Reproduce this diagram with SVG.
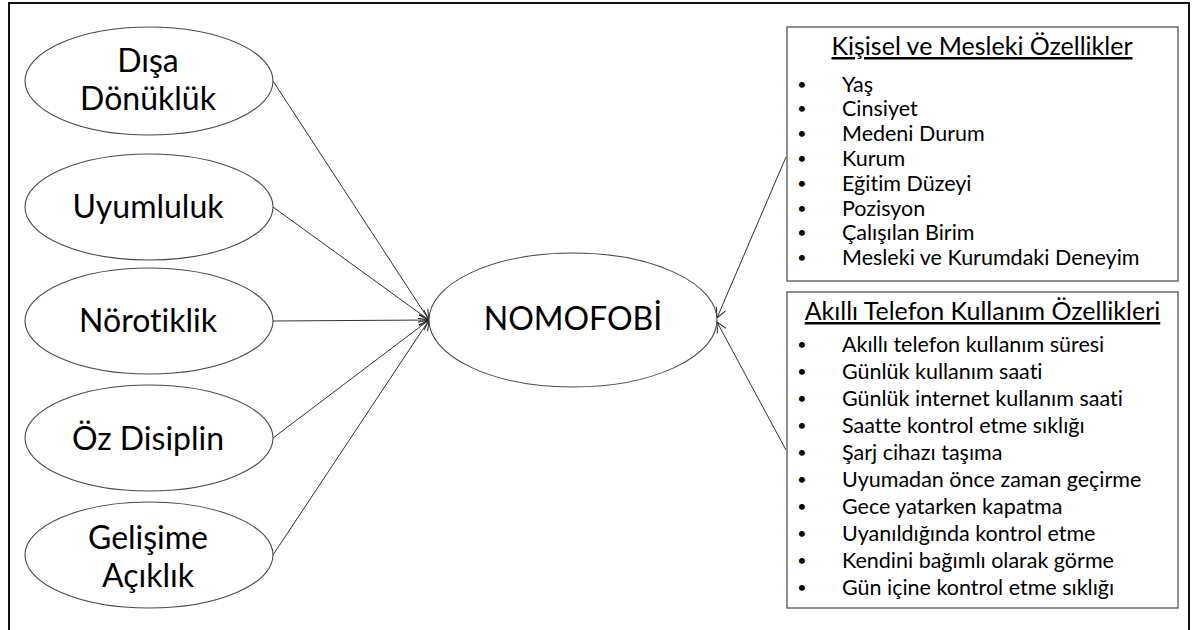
<svg xmlns="http://www.w3.org/2000/svg" width="1193" height="630" viewBox="0 0 1193 630">
<style>
text{font-variant-ligatures:none;font-feature-settings:"liga" 0,"clig" 0}
.frame{fill:none;stroke:#111;stroke-width:2}
.ell{fill:#fff;stroke:#4a4a4a;stroke-width:1.1}
.box{fill:#fff;stroke:#555;stroke-width:1.3}
.lbl{font-family:Lato,"Liberation Sans",sans-serif;font-size:32px;fill:#000;text-anchor:middle}
.ttl{font-family:Lato,"Liberation Sans",sans-serif;font-size:25px;fill:#000;text-anchor:middle;text-decoration:underline}
.itm{font-family:Lato,"Liberation Sans",sans-serif;font-size:21.5px;fill:#000}
.bul{font-family:Lato,"Liberation Sans",sans-serif;font-size:16px;fill:#000;text-anchor:middle}
.conn{stroke:#333;stroke-width:1;fill:none}
</style>
<defs>
<marker id="arr" markerWidth="12" markerHeight="12" refX="11" refY="6" orient="auto" markerUnits="userSpaceOnUse">
<path d="M1,1 L11,6 L1,11" fill="none" stroke="#222" stroke-width="1"/>
</marker>
</defs>
<rect width="1193" height="630" fill="#fff"/>
<path class="frame" d="M9,630 V3 H1189 V630"/>
<g id="connectors">
<line class="conn" x1="273" y1="81" x2="429" y2="320" marker-end="url(#arr)"/>
<line class="conn" x1="273" y1="207" x2="429" y2="320" marker-end="url(#arr)"/>
<line class="conn" x1="273" y1="321" x2="429" y2="320" marker-end="url(#arr)"/>
<line class="conn" x1="273" y1="438" x2="429" y2="320" marker-end="url(#arr)"/>
<line class="conn" x1="273" y1="555" x2="429" y2="320" marker-end="url(#arr)"/>
<line class="conn" x1="786" y1="157" x2="717" y2="318" marker-end="url(#arr)"/>
<line class="conn" x1="786" y1="450" x2="717" y2="322" marker-end="url(#arr)"/>
</g>
<g id="disa-donukluk">
<ellipse class="ell" cx="149" cy="81" rx="124" ry="54"/>
<text class="lbl" x="148" y="72">Dışa</text>
<text class="lbl" x="148" y="110">Dönüklük</text>
</g>
<g id="uyumluluk">
<ellipse class="ell" cx="149" cy="207" rx="124" ry="53"/>
<text class="lbl" x="148" y="218">Uyumluluk</text>
</g>
<g id="norotiklik">
<ellipse class="ell" cx="149" cy="321" rx="124" ry="53"/>
<text class="lbl" x="148" y="332">Nörotiklik</text>
</g>
<g id="oz-disiplin">
<ellipse class="ell" cx="149" cy="438" rx="124" ry="53"/>
<text class="lbl" x="148" y="450">Öz Disiplin</text>
</g>
<g id="gelisime-aciklik">
<ellipse class="ell" cx="149" cy="555" rx="124" ry="53"/>
<text class="lbl" x="148" y="549">Gelişime</text>
<text class="lbl" x="148" y="587">Açıklık</text>
</g>
<g id="nomofobi">
<ellipse class="ell" cx="573" cy="320" rx="144" ry="67"/>
<text class="lbl" x="573" y="330">NOMOFOBİ</text>
</g>
<g id="kisisel-mesleki">
<rect class="box" x="787" y="27" width="391" height="254"/>
<text class="ttl" x="982" y="55">Kişisel ve Mesleki Özellikler</text>
<g class="bul">
<text x="802" y="89.5">•</text>
<text x="802" y="114.3">•</text>
<text x="802" y="139.1">•</text>
<text x="802" y="163.9">•</text>
<text x="802" y="188.7">•</text>
<text x="802" y="213.5">•</text>
<text x="802" y="238.3">•</text>
<text x="802" y="263.1">•</text>
</g>
<g class="itm">
<text x="842" y="91.5">Yaş</text>
<text x="842" y="116.3">Cinsiyet</text>
<text x="842" y="141.1">Medeni Durum</text>
<text x="842" y="165.9">Kurum</text>
<text x="842" y="190.7">Eğitim Düzeyi</text>
<text x="842" y="215.5">Pozisyon</text>
<text x="842" y="240.3">Çalışılan Birim</text>
<text x="842" y="265.1">Mesleki ve Kurumdaki Deneyim</text>
</g>
</g>
<g id="akilli-telefon">
<rect class="box" x="787" y="292" width="391" height="316"/>
<text class="ttl" x="982.5" y="320">Akıllı Telefon Kullanım Özellikleri</text>
<g class="bul">
<text x="802" y="349.5">•</text>
<text x="802" y="376.6">•</text>
<text x="802" y="403.7">•</text>
<text x="802" y="430.8">•</text>
<text x="802" y="457.9">•</text>
<text x="802" y="485">•</text>
<text x="802" y="512.1">•</text>
<text x="802" y="539.2">•</text>
<text x="802" y="566.3">•</text>
<text x="802" y="593.4">•</text>
</g>
<g class="itm">
<text x="842" y="351.5">Akıllı telefon kullanım süresi</text>
<text x="842" y="378.6">Günlük kullanım saati</text>
<text x="842" y="405.7">Günlük internet kullanım saati</text>
<text x="842" y="432.8">Saatte kontrol etme sıklığı</text>
<text x="842" y="459.9">Şarj cihazı taşıma</text>
<text x="842" y="487">Uyumadan önce zaman geçirme</text>
<text x="842" y="514.1">Gece yatarken kapatma</text>
<text x="842" y="541.2">Uyanıldığında kontrol etme</text>
<text x="842" y="568.3">Kendini bağımlı olarak görme</text>
<text x="842" y="595.4">Gün içine kontrol etme sıklığı</text>
</g>
</g>
</svg>
